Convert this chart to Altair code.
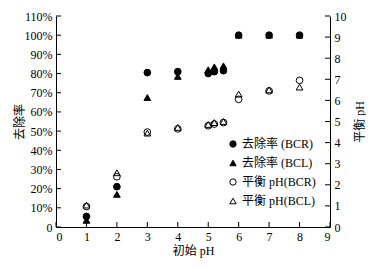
import altair as alt
import pandas as pd

# initial pH values
x_vals = [1, 2, 3, 4, 5, 5.2, 5.5, 6, 7, 8]
# removal rates (%)
rate_bcr = [5.5, 21, 80.5, 81, 80, 81, 81.5, 100, 100, 100]
rate_bcl = [3.5, 17, 67.5, 78.5, 82, 83.5, 84, 100, 100, 100]
# equilibrium pH
ph_bcr = [0.97, 2.38, 4.5, 4.65, 4.8, 4.88, 4.95, 6.05, 6.45, 6.95]
ph_bcl = [1.04, 2.57, 4.45, 4.72, 4.86, 4.95, 5.0, 6.3, 6.5, 6.63]

series_names = ["去除率 (BCR)", "去除率 (BCL)", "平衡 pH(BCR)", "平衡 pH(BCL)"]
shapes = ["circle", "triangle-up", "circle", "triangle-up"]
fills = ["black", "black", "transparent", "transparent"]
strokes = ["black", "black", "black", "black"]

x_ticks = list(range(0, 10))
rate_ticks = list(range(0, 111, 10))
ph_ticks = list(range(0, 11))

FONT = "Liberation Serif, Noto Sans CJK SC"
W, H = 274, 211

rate_df = pd.DataFrame({
    "x": x_vals * 2,
    "v": rate_bcr + rate_bcl,
    "series": [series_names[0]] * len(x_vals) + [series_names[1]] * len(x_vals),
})
ph_df = pd.DataFrame({
    "x": x_vals * 2,
    "v": ph_bcr + ph_bcl,
    "series": [series_names[2]] * len(x_vals) + [series_names[3]] * len(x_vals),
})

xscale = alt.Scale(domain=[0, 9], nice=False)
xaxis = alt.Axis(values=x_ticks, title="初始 pH", tickSize=0, labelPadding=4,
                 titlePadding=3, grid=False, format="d")
lscale = alt.Scale(domain=[0, 110], nice=False)
laxis = alt.Axis(values=rate_ticks, title="去除率", tickSize=0, labelPadding=4,
                 grid=False, labelExpr="datum.value == 0 ? '0' : datum.value + '%'",
                 titleX=-37, titleY=H / 2, titleAlign="center", titleBaseline="middle",
                 titleAngle=270)
rscale = alt.Scale(domain=[0, 10], nice=False)
raxis = alt.Axis(values=ph_ticks, title="平衡 pH", orient="right", tickSize=0,
                 labelPadding=4, grid=False, format="d",
                 titleX=29, titleY=H / 2, titleAlign="center", titleBaseline="middle",
                 titleAngle=270)

leg = alt.Legend(title=None, orient="none", legendX=171, legendY=122)
shape_enc = alt.Shape("series:N", scale=alt.Scale(domain=series_names, range=shapes), legend=leg)
fill_enc = alt.Fill("series:N", scale=alt.Scale(domain=series_names, range=fills), legend=leg)
stroke_enc = alt.Stroke("series:N", scale=alt.Scale(domain=series_names, range=strokes), legend=leg)


def points(df, scale, axis):
    return alt.Chart(df).mark_point(filled=True, strokeWidth=1, opacity=1,
                                    fillOpacity=1, size=45).encode(
        x=alt.X("x:Q", scale=xscale, axis=xaxis),
        y=alt.Y("v:Q", scale=scale, axis=axis),
        shape=shape_enc, fill=fill_enc, stroke=stroke_enc,
    )


rate_points = points(rate_df, lscale, laxis)
ph_points = points(ph_df, rscale, raxis)

rate_tick_marks = alt.Chart(pd.DataFrame({"v": rate_ticks})).mark_rule(color="black").encode(
    y=alt.Y("v:Q", scale=lscale, axis=laxis),
    x=alt.value(0), x2=alt.value(5),
)
x_tick_marks = alt.Chart(pd.DataFrame({"x": x_ticks})).mark_rule(color="black").encode(
    x=alt.X("x:Q", scale=xscale, axis=xaxis),
    y=alt.value(H), y2=alt.value(H - 5),
)
ph_tick_marks = alt.Chart(pd.DataFrame({"v": ph_ticks})).mark_rule(color="black").encode(
    y=alt.Y("v:Q", scale=rscale, axis=raxis),
    x=alt.value(W), x2=alt.value(W - 5),
)

left = alt.layer(rate_tick_marks, x_tick_marks, rate_points)
right = alt.layer(ph_tick_marks, ph_points)

chart = alt.layer(left, right).resolve_scale(y="independent").properties(
    width=W, height=H,
    autosize=alt.AutoSizeParams(type="none"),
    padding={"left": 48, "top": 8, "right": 36, "bottom": 34},
).configure_view(stroke=None).configure_axis(
    domainColor="black", domainWidth=1, labelColor="black", titleColor="black",
    labelFont=FONT, titleFont=FONT, labelFontSize=12, titleFontSize=12,
    titleFontWeight="normal",
).configure_legend(
    labelFont=FONT, labelFontSize=12, labelColor="black", symbolSize=40,
    symbolStrokeWidth=1, rowPadding=7, padding=0, labelOffset=3,
)

chart.save("out.html", embed_options={"renderer": "svg", "actions": False})
